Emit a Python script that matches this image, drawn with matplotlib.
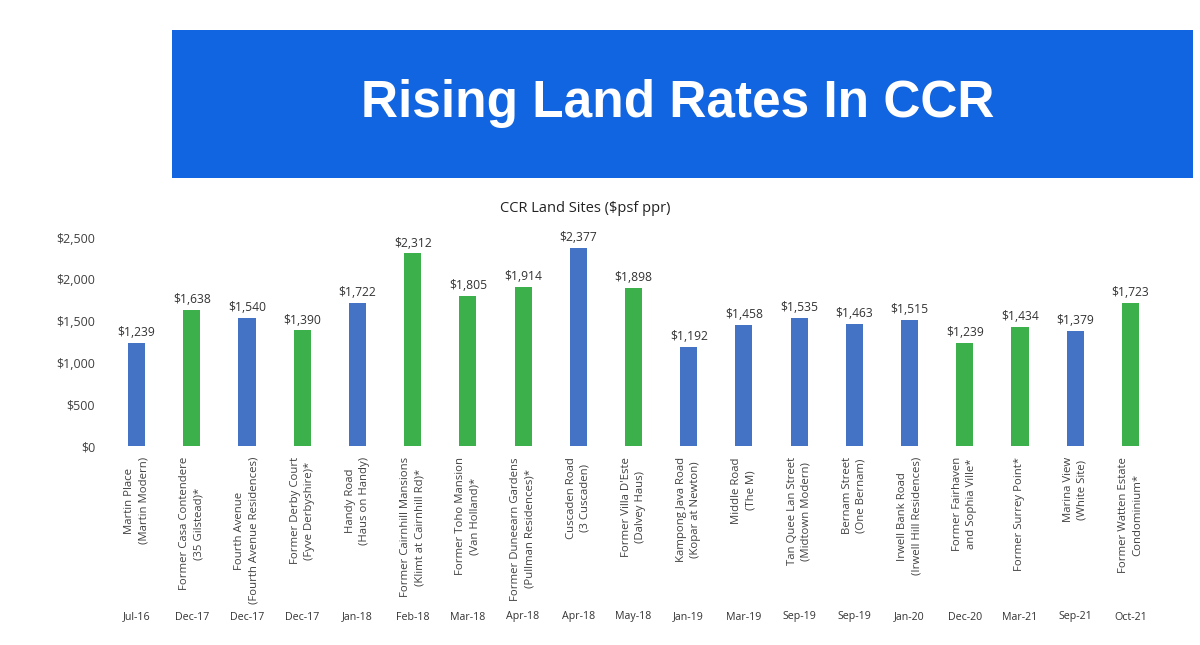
import matplotlib.pyplot as plt
from matplotlib.patches import Rectangle
import matplotlib.transforms as mtransforms

# Datos: terrenos CCR ($psf ppr)
sites = [
    "Martin Place\n(Martin Modern)",
    "Former Casa Contendere\n(35 Gilstead)*",
    "Fourth Avenue\n(Fourth Avenue Residences)",
    "Former Derby Court\n(Fyve Derbyshire)*",
    "Handy Road\n(Haus on Handy)",
    "Former Cairnhill Mansions\n(Klimt at Cairnhill Rd)*",
    "Former Toho Mansion\n(Van Holland)*",
    "Former Duneearn Gardens\n(Pullman Residences)*",
    "Cuscaden Road\n(3 Cuscaden)",
    "Former Villa D'Este\n(Dalvey Haus)",
    "Kampong Java Road\n(Kopar at Newton)",
    "Middle Road\n(The M)",
    "Tan Quee Lan Street\n(Midtown Modern)",
    "Bernam Street\n(One Bernam)",
    "Irwell Bank Road\n(Irwell Hill Residences)",
    "Former Fairhaven\nand Sophia Ville*",
    "Former Surrey Point*",
    "Marina View\n(White Site)",
    "Former Watten Estate\nCondominium*",
]
dates = ["Jul-16", "Dec-17", "Dec-17", "Dec-17", "Jan-18", "Feb-18", "Mar-18",
         "Apr-18", "Apr-18", "May-18", "Jan-19", "Mar-19", "Sep-19", "Sep-19",
         "Jan-20", "Dec-20", "Mar-21", "Sep-21", "Oct-21"]
land_rate = [1239, 1638, 1540, 1390, 1722, 2312, 1805, 1914, 2377, 1898,
             1192, 1458, 1535, 1463, 1515, 1239, 1434, 1379, 1723]
# "gls" = azul, "enbloc" = verde
site_type = ["gls", "enbloc", "gls", "enbloc", "gls", "enbloc", "enbloc",
             "enbloc", "gls", "enbloc", "gls", "gls", "gls", "gls", "gls",
             "enbloc", "enbloc", "gls", "enbloc"]
y_ticks = [0, 500, 1000, 1500, 2000, 2500]

colors = {"gls": "#4472C4", "enbloc": "#3BB04B"}
font = "Open Sans"

fig = plt.figure(figsize=(12, 6.45), dpi=100)

# Banner del titulo
fig.patches.append(Rectangle((172 / 1200, 1 - 178 / 645), (1193 - 172) / 1200, 148 / 645,
                             transform=fig.transFigure, facecolor="#1265E0",
                             edgecolor="none", zorder=0))
fig.text(678 / 1200, 1 - 103 / 645, "Rising Land Rates In CCR",
         ha="center", va="center", color="white", fontsize=37,
         fontweight="bold", family="Liberation Sans")

fig.text(585 / 1200, 1 - 209 / 645, "CCR Land Sites ($psf ppr)", ha="center",
         va="center", fontsize=10.5, color="#222222", family=font)

ax = fig.add_axes([109 / 1200, (645 - 446) / 645, (1158 - 109) / 1200, 229 / 645])
x = list(range(len(land_rate)))
bars = ax.bar(x, land_rate, width=0.31, color=[colors[t] for t in site_type])

for xi, v in zip(x, land_rate):
    ax.text(xi, v + 45, f"${v:,}", ha="center", va="bottom", fontsize=8.7,
            color="#333333", family=font)

ax.set_xlim(-0.5, len(land_rate) - 0.5)
ax.set_ylim(0, 2750)
ax.set_yticks(y_ticks)
ax.set_yticklabels([f"${t:,}" for t in y_ticks], fontsize=9, color="#404040",
                   family=font)
ax.set_xticks(x)
ax.set_xticklabels(sites, rotation=90, fontsize=8.2, color="#404040",
                   family=font, linespacing=1.4)
ax.tick_params(axis="both", length=0)
ax.tick_params(axis="x", pad=8)
ax.tick_params(axis="y", pad=10)
for s in ax.spines.values():
    s.set_visible(False)

trans = mtransforms.blended_transform_factory(ax.transData, fig.transFigure)
for xi, d in zip(x, dates):
    ax.text(xi, 1 - 617 / 645, d, transform=trans, ha="center", va="center",
            fontsize=7.7, color="#333333", family=font)

fig.savefig("out.png", dpi=100, facecolor="white")
